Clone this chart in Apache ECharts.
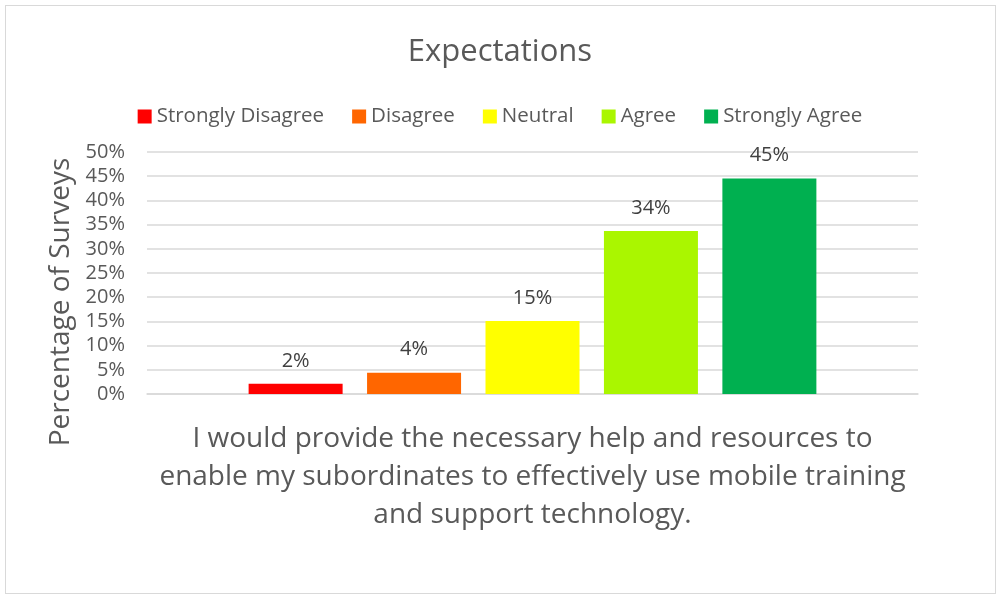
<!DOCTYPE html>
<html>
<head>
<meta charset="utf-8">
<script src="https://cdn.jsdelivr.net/npm/echarts@6/dist/echarts.min.js"></script>
<style>
  html, body { margin: 0; padding: 0; background: #fff; }
  #frame { position: absolute; left: 5px; top: 5px; width: 989px; height: 587px; border: 1px solid #d9d9d9; }
  #chart { position: absolute; left: 0; top: 0; width: 1000px; height: 597px; }
</style>
</head>
<body>
<div id="frame"></div>
<div id="chart"></div>
<script>
// 数据
var categories = ['I would provide the necessary help and resources to\nenable my subordinates to effectively use mobile training\nand support technology.'];
var seriesNames = ['Strongly Disagree', 'Disagree', 'Neutral', 'Agree', 'Strongly Agree'];
var seriesValues = [2.1, 4.4, 15.1, 33.7, 44.5];
var seriesColors = ['#ff0000', '#ff6600', '#ffff00', '#aaf600', '#00b050'];
var yTicks = [0, 5, 10, 15, 20, 25, 30, 35, 40, 45, 50];

var font = 'Open Sans';

var series = seriesNames.map(function (name, i) {
    return {
        name: name,
        type: 'bar',
        data: [seriesValues[i]],
        barWidth: 94,
        barGap: '26%',
        itemStyle: { color: seriesColors[i] },
        label: {
            show: true,
            position: 'top',
            distance: 13,
            fontFamily: font,
            fontSize: 20,
            color: '#404040',
            formatter: function (p) { return Math.round(p.value) + '%'; }
        }
    };
});

var myChart = echarts.init(document.getElementById('chart'));
myChart.setOption({
    animation: false,
    title: {
        text: 'Expectations',
        left: 'center',
        top: 32,
        textStyle: { fontFamily: font, fontSize: 31, fontWeight: 'normal', color: '#595959' }
    },
    legend: {
        top: 101,
        left: 'center',
        itemWidth: 14,
        itemHeight: 14,
        itemGap: 28,
        icon: 'rect',
        textStyle: { fontFamily: font, fontSize: 20.5, color: '#595959' },
        data: seriesNames
    },
    grid: { left: 147, right: 82, top: 152, bottom: 203, containLabel: false },
    xAxis: {
        type: 'category',
        data: categories,
        axisLine: { lineStyle: { color: '#d9d9d9', width: 1.5 } },
        axisTick: { show: false },
        axisLabel: {
            margin: 26,
            fontFamily: font,
            fontSize: 28,
            lineHeight: 38,
            color: '#595959',
            align: 'center'
        }
    },
    yAxis: {
        type: 'value',
        min: yTicks[0],
        max: yTicks[yTicks.length - 1],
        interval: 5,
        name: 'Percentage of Surveys',
        nameLocation: 'middle',
        nameGap: 72,
        nameTextStyle: { fontFamily: font, fontSize: 28, color: '#595959', padding: [0, 0, 0, -58] },
        axisLine: { show: false },
        axisTick: { show: false },
        axisLabel: {
            margin: 22,
            fontFamily: font,
            fontSize: 20,
            color: '#595959',
            formatter: '{value}%'
        },
        splitLine: { lineStyle: { color: '#d9d9d9', width: 1.5 } }
    },
    series: series
});
</script>
</body>
</html>
